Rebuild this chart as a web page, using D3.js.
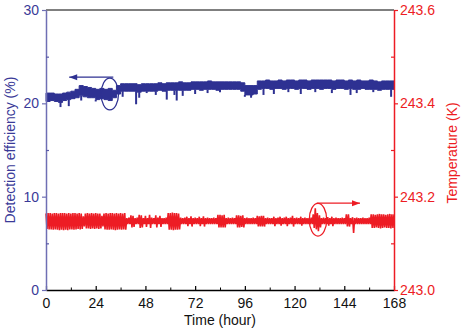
<!DOCTYPE html>
<html>
<head>
<meta charset="utf-8">
<script src="https://cdn.jsdelivr.net/npm/d3@7"></script>
<style>
  html, body { margin: 0; padding: 0; background: #fff; }
  svg { display: block; font-family: "Liberation Sans", Arial, sans-serif; }
</style>
</head>
<body>
<div id="chart"></div>
<script>
// x axis ticks (hours)
const hourTicks = [0, 24, 48, 72, 96, 120, 144, 168];
const hourMinor = [12, 36, 60, 84, 108, 132, 156];
const effTicks = [0, 10, 20, 30];
const effMinor = [5, 15, 25];
const tempTicks = [243.0, 243.2, 243.4, 243.6];
const tempMinor = [243.1, 243.3, 243.5];

// detection efficiency band, 2 hour bins starting at t = 0, 2, 4 ... 166 (%)
const effTop = [
  21.1,21.1,21.0,21.0,21.1,21.2,21.3,21.5,21.9,21.8,21.7,21.6,
  21.5,21.6,21.5,21.6,21.4,21.9,22.1,22.1,22.1,22.1,22.0,22.1,
  22.1,22.1,22.1,22.2,22.1,22.2,22.2,22.2,22.3,22.2,22.2,22.3,
  22.3,22.3,22.3,22.4,22.3,22.3,22.3,22.3,22.3,22.3,22.3,22.2,
  21.9,21.9,21.9,22.4,22.4,22.5,22.4,22.4,22.5,22.4,22.5,22.5,
  22.4,22.5,22.5,22.4,22.5,22.5,22.5,22.5,22.5,22.4,22.5,22.5,
  22.4,22.5,22.4,22.5,22.4,22.4,22.5,22.4,22.3,22.4,22.4,22.4
];
const effBottom = [
  20.2,20.3,20.2,20.1,20.3,20.4,20.5,20.6,20.8,20.7,20.6,20.6,
  20.4,20.5,20.4,20.3,20.6,21.0,21.3,21.3,21.3,21.3,21.2,21.3,
  21.3,21.3,21.3,21.4,21.3,21.4,21.4,21.4,21.4,21.4,21.4,21.5,
  21.5,21.4,21.5,21.5,21.5,21.4,21.5,21.5,21.5,21.5,21.5,21.3,
  20.9,20.9,21.0,21.5,21.6,21.6,21.5,21.6,21.6,21.5,21.6,21.6,
  21.5,21.6,21.6,21.5,21.6,21.6,21.5,21.6,21.6,21.5,21.6,21.6,
  21.5,21.6,21.5,21.5,21.6,21.5,21.5,21.5,21.4,21.5,21.5,21.5
];
// downward drops of the efficiency trace: [hour, lowest %]
const effDrops = [
  [7, 19.6], [11, 19.7], [17, 20.3], [24, 20.2], [37, 20.7], [43.5, 19.9],
  [45, 20.6], [48.6, 21.1], [53, 20.9], [58.3, 20.4], [62, 20.9], [63.1, 20.3],
  [66, 20.8], [72, 21.0], [78, 21.1], [84, 21.2], [96, 20.7], [99, 20.6],
  [105, 20.9], [110, 21.0], [117, 21.2], [123, 21.0], [130, 21.2], [138, 21.1],
  [147, 20.9], [150, 21.1], [158, 21.2], [166.6, 20.7]
];

// temperature, hourly envelope around tempBase (mK above / below)
const tempBase = 243.148;
const tempUp = [
  16,17,17,16,17,17,16,17,17,17,16,17,
  16,17,17,16,17,16,10,16,17,16,17,16,
  17,16,16,11,16,17,16,17,17,16,17,16,
  17,16,17,6,7,12,11,6,7,13,12,6,
  11,6,13,7,6,12,7,11,6,6,7,17,
  17,18,17,17,16,7,6,7,9,6,10,6,
  7,6,9,6,10,6,7,6,6,7,6,13,
  13,12,13,6,7,6,7,6,12,12,11,12,
  6,7,6,6,7,6,11,10,11,11,6,7,
  6,6,9,6,7,9,6,7,9,6,7,11,
  6,7,6,9,6,7,6,6,7,14,27,17,
  12,6,7,6,8,6,9,6,7,6,6,7,
  6,14,14,6,8,6,7,6,6,7,6,6,
  7,14,14,13,14,15,14,14,13,14,15,14
];
const tempDown = [
  17,18,18,19,18,19,20,19,20,19,20,18,
  18,19,18,17,18,17,12,16,16,17,16,17,
  16,17,16,12,18,19,19,18,19,20,19,18,
  19,18,19,7,7,14,13,7,7,15,14,7,
  13,7,15,7,7,14,7,13,7,7,7,19,
  19,20,19,19,18,7,7,7,11,7,12,7,
  7,7,11,7,12,7,7,7,7,7,7,14,
  14,14,14,7,7,7,7,7,14,14,13,14,
  7,7,7,7,7,7,12,12,12,12,7,7,
  7,7,11,7,7,10,7,7,11,7,7,12,
  7,7,7,10,7,7,7,7,7,15,18,22,
  14,7,7,7,10,7,11,7,7,7,7,7,
  7,12,12,7,26,7,7,7,7,7,7,7,
  7,15,15,14,15,16,15,14,15,15,16,15
];

const blue = "#2e3192", red = "#ed1c24";

let W = 463, H = 329;
let margin = {top: 10, right: 69, bottom: 39, left: 46};
let iw = W - margin.left - margin.right,
    ih = H - margin.top - margin.bottom;

let svg = d3.select("#chart").append("svg")
    .attr("width", W).attr("height", H);

let g = svg.append("g").attr("transform", `translate(${margin.left},${margin.top})`);

let x = d3.scaleLinear().domain([0, 168]).range([0, iw]);
let yL = d3.scaleLinear().domain([0, 30]).range([ih, 0]);
let yR = d3.scaleLinear().domain([243.0, 243.6]).range([ih, 0]);

// efficiency band
let effBins = effTop.map((v, i) => ({t: i * 2, top: v, bot: effBottom[i]}));
effBins.push({t: 168, top: effTop[effTop.length - 1], bot: effBottom[effBottom.length - 1]});

g.append("path")
    .datum(effBins)
    .attr("fill", blue)
    .attr("stroke", blue)
    .attr("stroke-width", 1)
    .attr("d", d3.area().curve(d3.curveStepAfter)
        .x(d => x(d.t)).y0(d => yL(d.bot)).y1(d => yL(d.top)));

g.selectAll(".drop").data(effDrops).join("line")
    .attr("x1", d => x(d[0])).attr("x2", d => x(d[0]))
    .attr("y1", d => yL(effBottom[Math.min(83, Math.floor(d[0] / 2))]))
    .attr("y2", d => yL(d[1]))
    .attr("stroke", blue).attr("stroke-width", 2);

// temperature trace: alternate between the upper and lower value in each hour
let tPts = [];
tempUp.forEach((v, i) => {
  tPts.push([i, tempBase + v / 1000]);
  tPts.push([i + 0.5, tempBase - tempDown[i] / 1000]);
});
tPts.push([168, tempBase + tempUp[167] / 1000]);

g.append("path")
    .datum(tPts)
    .attr("fill", "none")
    .attr("stroke", red)
    .attr("stroke-width", 1.6)
    .attr("stroke-linejoin", "bevel")
    .attr("d", d3.line().x(d => x(d[0])).y(d => yR(d[1])));

// frame: top line
g.append("line").attr("x1", 0).attr("x2", iw).attr("y1", 0).attr("y2", 0)
    .attr("stroke", "#000").attr("stroke-width", 1);

function styleAxis(sel, col, lineCol) {
  sel.attr("font-family", "'Liberation Sans', Arial, sans-serif").attr("font-size", 14);
  sel.selectAll("text").attr("fill", col);
  sel.selectAll("line").attr("stroke", lineCol).attr("stroke-width", 1.2);
  sel.select(".domain").attr("stroke", lineCol).attr("stroke-width", 1.5);
}

// bottom axis
let xAx = g.append("g").attr("transform", `translate(0,${ih})`)
    .call(d3.axisBottom(x).tickValues(hourTicks).tickSize(-4).tickSizeOuter(0).tickPadding(8));
styleAxis(xAx, "#111", "#000");
g.append("g").attr("transform", `translate(0,${ih})`)
    .call(d3.axisBottom(x).tickValues(hourMinor).tickSize(-2.5).tickFormat(""))
    .call(s => s.select(".domain").remove())
    .selectAll("line").attr("stroke", "#000");

// left axis
let lAx = g.append("g")
    .call(d3.axisLeft(yL).tickValues(effTicks).tickSize(4).tickSizeOuter(0).tickPadding(3));
styleAxis(lAx, "#3a3a98", "#6f6fb4");
g.append("g")
    .call(d3.axisLeft(yL).tickValues(effMinor).tickSize(-3).tickFormat(""))
    .call(s => s.select(".domain").remove())
    .selectAll("line").attr("stroke", "#5a5aa8").attr("stroke-width", 1.2);

// right axis
let rAx = g.append("g").attr("transform", `translate(${iw},0)`)
    .call(d3.axisRight(yR).tickValues(tempTicks).tickSize(4).tickSizeOuter(0).tickPadding(2)
        .tickFormat(d3.format(".1f")));
styleAxis(rAx, red, red);
g.append("g").attr("transform", `translate(${iw},0)`)
    .call(d3.axisRight(yR).tickValues(tempMinor).tickSize(-3).tickFormat(""))
    .call(s => s.select(".domain").remove())
    .selectAll("line").attr("stroke", red).attr("stroke-width", 1.2);

// axis titles
svg.append("text")
    .attr("x", margin.left + iw / 2).attr("y", 325)
    .attr("text-anchor", "middle").attr("font-size", 14).attr("fill", "#111")
    .text("Time (hour)");

svg.append("text")
    .attr("transform", `translate(15,${margin.top + ih / 2}) rotate(-90)`)
    .attr("text-anchor", "middle").attr("font-size", 14).attr("fill", "#3a3a98")
    .text("Detection efficiency (%)");

svg.append("text")
    .attr("transform", `translate(457,${margin.top + ih / 2 + 3}) rotate(-90)`)
    .attr("text-anchor", "middle").attr("font-size", 14).attr("fill", red)
    .text("Temperature (K)");

// annotations: ellipses with arrows pointing to the matching axis
function marker(cx, cy, rx, ry, ax0, ax1, ay, col) {
  g.append("ellipse")
      .attr("cx", cx).attr("cy", cy).attr("rx", rx).attr("ry", ry)
      .attr("fill", "none").attr("stroke", col).attr("stroke-width", 1.3);
  g.append("line")
      .attr("x1", ax0).attr("x2", ax1).attr("y1", ay).attr("y2", ay)
      .attr("stroke", col).attr("stroke-width", 1.3);
  let dir = ax1 > ax0 ? 1 : -1;
  g.append("path")
      .attr("d", `M${ax1},${ay} L${ax1 - dir * 8},${ay - 3} L${ax1 - dir * 8},${ay + 3} Z`)
      .attr("fill", col);
}

marker(x(30.8), yL(21.0), x(4.2) - x(0), yL(0) - yL(1.7),
       x(32.5), x(11.2), yL(22.8), blue);
marker(x(131.3), yR(243.1506), x(4.2) - x(0), yR(243.0) - yR(243.035),
       x(130.7), x(151.6), yR(243.186), red);
</script>
</body>
</html>
